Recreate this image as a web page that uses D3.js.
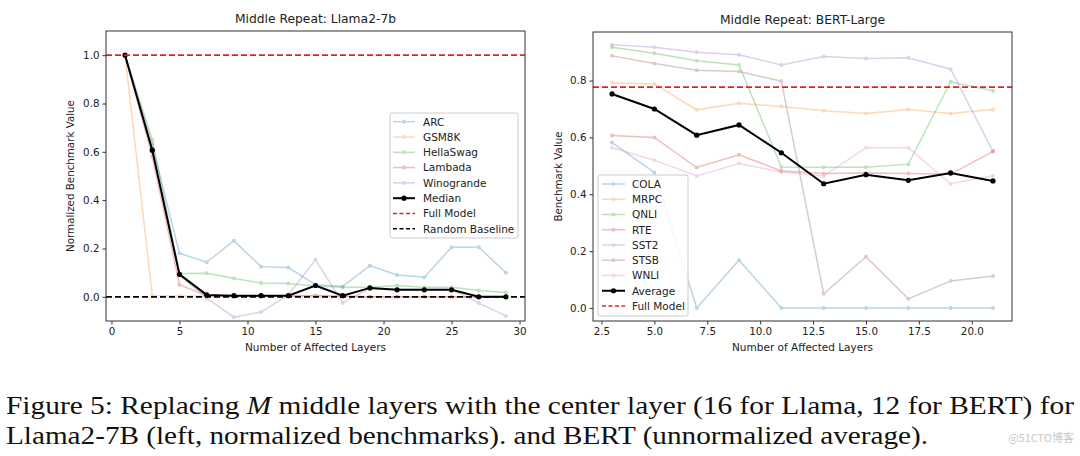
<!DOCTYPE html>
<html><head><meta charset="utf-8">
<script src="https://cdn.jsdelivr.net/npm/d3@7"></script>
<style>body{margin:0;background:#fff}svg{display:block}</style>
</head><body><svg id="c" width="1080" height="456"></svg>
<script>
// ---- Data: left panel (Llama2-7b) ----
const llamaX = [1,3,5,7,9,11,13,15,17,19,21,23,25,27,29];
const arc        = [1.0,0.63,0.18,0.143,0.232,0.125,0.121,0.05,0.043,0.129,0.09,0.081,0.205,0.205,0.10];
const gsm8k      = [1.0,0.006,0.003,0.003,0.003,0.003,0.003,0.003,0.002,0.0,0.0,0.0,0.0,0.0,0.0];
const hellaswag  = [1.0,0.65,0.097,0.098,0.077,0.057,0.055,0.045,0.04,0.04,0.047,0.04,0.04,0.026,0.018];
const lambada    = [1.0,0.58,0.05,0.005,0.003,0.003,0.003,0.005,0.002,0.0,0.0,0.0,0.0,0.0,0.0];
const winogrande = [1.0,0.61,0.09,-0.005,-0.084,-0.063,0.008,0.153,-0.025,0.035,0.03,0.03,0.03,-0.026,-0.079];
const median     = [1.0,0.607,0.093,0.008,0.005,0.005,0.005,0.047,0.005,0.037,0.029,0.029,0.029,0.0,0.0];
const llamaNames = ["ARC","GSM8K","HellaSwag","Lambada","Winogrande"];
const llamaFull = 1.0, llamaRandom = 0.0;
const llamaXTicks = [0,5,10,15,20,25,30];
const llamaYTicks = [0,0.2,0.4,0.6,0.8,1.0];

// ---- Data: right panel (BERT-Large) ----
const bertX = [3,5,7,9,11,13,15,17,19,21];
const cola = [0.582,0.477,0.0,0.168,0.0,0.0,0.0,0.0,0.0,0.0];
const mrpc = [0.792,0.788,0.697,0.72,0.709,0.694,0.684,0.698,0.684,0.698];
const qnli = [0.917,0.896,0.87,0.855,0.496,0.495,0.495,0.506,0.796,0.764];
const rte  = [0.607,0.6,0.494,0.539,0.482,0.473,0.475,0.473,0.47,0.551];
const sst2 = [0.926,0.917,0.90,0.891,0.855,0.885,0.878,0.88,0.84,0.551];
const stsb = [0.887,0.86,0.836,0.832,0.798,0.05,0.18,0.032,0.095,0.112];
const wnli = [0.564,0.52,0.464,0.508,0.478,0.464,0.564,0.564,0.437,0.465];
const average = [0.753,0.70,0.608,0.644,0.546,0.437,0.469,0.449,0.475,0.447];
const bertNames = ["COLA","MRPC","QNLI","RTE","SST2","STSB","WNLI"];
const bertFull = 0.777;
const bertXTicks = [2.5,5.0,7.5,10.0,12.5,15.0,17.5,20.0];
const bertYTicks = [0,0.2,0.4,0.6,0.8];

const tab = ["#1f77b4","#ff7f0e","#2ca02c","#d62728","#9467bd","#8c564b","#e377c2"];
const FONT = "DejaVu Sans";
const svg = d3.select("#c");

function panel(o){
  const x = d3.scaleLinear().domain(o.xd).range([o.l,o.r]);
  const y = d3.scaleLinear().domain(o.yd).range([o.b,o.t]);
  const g = svg.append("g");
  const ax = g.append("g").attr("transform",`translate(0,${o.b})`)
    .call(d3.axisBottom(x).tickValues(o.xt).tickFormat(o.xf).tickSize(3.5).tickPadding(3));
  const ay = g.append("g").attr("transform",`translate(${o.l},0)`)
    .call(d3.axisLeft(y).tickValues(o.yt).tickFormat(d3.format(".1f")).tickSize(3.5).tickPadding(3));
  [ax,ay].forEach(a=>{a.select(".domain").remove();
    a.selectAll("text").attr("font-family",FONT).attr("font-size",10.3).attr("fill","#222");
    a.selectAll("line").attr("stroke","#333");});
  const line = d3.line().x((d,i)=>x(o.xs[i])).y(d=>y(d));
  o.series.forEach((s,k)=>{
    const sg = g.append("g").attr("opacity",0.3);
    sg.append("path").datum(s).attr("d",line).attr("fill","none").attr("stroke",tab[k]).attr("stroke-width",1.5);
    sg.selectAll("circle").data(s).join("circle").attr("cx",(d,i)=>x(o.xs[i])).attr("cy",d=>y(d)).attr("r",2).attr("fill",tab[k]);
  });
  g.append("path").datum(o.main).attr("d",line).attr("fill","none").attr("stroke","#000").attr("stroke-width",2);
  g.selectAll("circle.m").data(o.main).join("circle").attr("class","m").attr("cx",(d,i)=>x(o.xs[i])).attr("cy",d=>y(d)).attr("r",2.6).attr("fill","#000");
  g.append("line").attr("x1",o.l).attr("x2",o.r).attr("y1",y(o.full)).attr("y2",y(o.full))
    .attr("stroke","#d62728").attr("stroke-width",1.6).attr("stroke-dasharray","6,3");
  if(o.random!==undefined){
    g.append("line").attr("x1",o.l).attr("x2",o.r).attr("y1",y(o.random)).attr("y2",y(o.random))
      .attr("stroke","#000").attr("stroke-width",1.6).attr("stroke-dasharray","6,3");
  }
  g.append("rect").attr("x",o.l).attr("y",o.t).attr("width",o.r-o.l).attr("height",o.b-o.t)
    .attr("fill","none").attr("stroke","#333").attr("stroke-width",1);
  g.append("text").attr("x",(o.l+o.r)/2).attr("y",o.t-8).attr("text-anchor","middle")
    .attr("font-family",FONT).attr("font-size",12.3).attr("fill","#222").text(o.title);
  g.append("text").attr("x",(o.l+o.r)/2).attr("y",o.b+30).attr("text-anchor","middle")
    .attr("font-family",FONT).attr("font-size",10.5).attr("fill","#222").text("Number of Affected Layers");
  g.append("text").attr("transform",`translate(${o.yl},${(o.t+o.b)/2}) rotate(-90)`).attr("text-anchor","middle")
    .attr("font-family",FONT).attr("font-size",10.3).attr("fill","#222").text(o.ylabel);
  const L = o.leg;
  g.append("rect").attr("x",L.x).attr("y",L.y).attr("width",L.w).attr("height",L.h)
    .attr("fill","#fff").attr("fill-opacity",0.85).attr("stroke","#ccc").attr("rx",2);
  const items = o.names.map((n,k)=>({n,c:tab[k],op:0.3,dash:null,mk:2}))
    .concat([{n:o.mainName,c:"#000",op:1,dash:null,mk:2.6,w:2},{n:"Full Model",c:"#d62728",op:1,dash:"4,2.5",mk:0,w:1.6}]);
  if(o.random!==undefined) items.push({n:"Random Baseline",c:"#000",op:1,dash:"4,2.5",mk:0,w:1.6});
  items.forEach((it,i)=>{
    const yy = L.y0 + i*L.step;
    const ig = g.append("g").attr("opacity",it.op);
    ig.append("line").attr("x1",L.lx0).attr("x2",L.lx1).attr("y1",yy).attr("y2",yy).attr("stroke",it.c)
      .attr("stroke-width",it.w||1.5).attr("stroke-dasharray",it.dash);
    if(it.mk) ig.append("circle").attr("cx",(L.lx0+L.lx1)/2).attr("cy",yy).attr("r",it.mk).attr("fill",it.c);
    g.append("text").attr("x",L.tx).attr("y",yy+3.8).attr("font-family",FONT).attr("font-size",10.5).attr("fill","#222").text(it.n);
  });
}

panel({l:106,r:525,t:31,b:321,xd:[-0.4,30.4],yd:[-0.1,1.1],xt:llamaXTicks,yt:llamaYTicks,xf:d3.format("d"),
  xs:llamaX,series:[arc,gsm8k,hellaswag,lambada,winogrande],main:median,mainName:"Median",names:llamaNames,
  full:llamaFull,random:llamaRandom,title:"Middle Repeat: Llama2-7b",ylabel:"Normalized Benchmark Value",yl:74,
  leg:{x:390,y:113,w:128,h:125,y0:121.7,step:15.3,lx0:393,lx1:415,tx:423}});

panel({l:593,r:1012,t:32,b:321,xd:[2.1,21.9],yd:[-0.046,0.971],xt:bertXTicks,yt:bertYTicks,xf:d3.format(".1f"),
  xs:bertX,series:[cola,mrpc,qnli,rte,sst2,stsb,wnli],main:average,mainName:"Average",names:bertNames,
  full:bertFull,title:"Middle Repeat: BERT-Large",ylabel:"Benchmark Value",yl:562,
  leg:{x:598,y:175,w:90,h:141,y0:184,step:15.25,lx0:602,lx1:625,tx:632}});

const cap = svg.append("g").attr("font-family","'Liberation Serif', serif").attr("font-size",25.5).attr("fill","#111");
const l1 = cap.append("text").attr("x",6).attr("y",414).attr("textLength",1068).attr("lengthAdjust","spacingAndGlyphs");
l1.append("tspan").text("Figure 5: Replacing ");
l1.append("tspan").attr("font-style","italic").text("M");
l1.append("tspan").text(" middle layers with the center layer (16 for Llama, 12 for BERT) for");
cap.append("text").attr("x",6).attr("y",444).attr("textLength",922).attr("lengthAdjust","spacingAndGlyphs")
  .text("Llama2-7B (left, normalized benchmarks). and BERT (unnormalized average).");
svg.append("text").attr("x",1074).attr("y",442).attr("text-anchor","end").attr("font-family","Noto Sans CJK SC")
  .attr("font-size",11).attr("fill","#c8c8c8").text("@51CTO博客");
</script></body></html>
